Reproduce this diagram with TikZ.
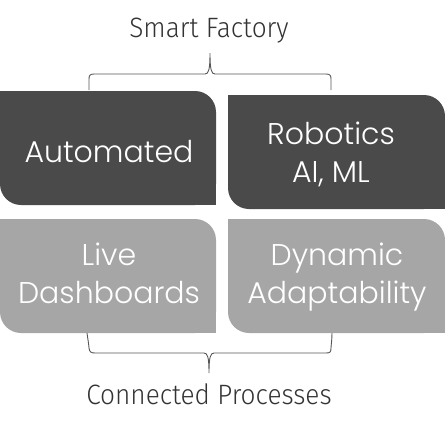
\documentclass[tikz,border=0pt]{standalone}
\usepackage{fontspec}
\IfFontExistsTF{Poppins Light}{\newfontfamily\boxfont{Poppins Light}}{\newfontfamily\boxfont{Poppins}}
\IfFontExistsTF{Fira Sans Light}{\newfontfamily\capfont[FakeStretch=0.935]{Fira Sans Light}}{\newfontfamily\capfont[FakeStretch=0.935]{Fira Sans}}
\definecolor{darkbox}{HTML}{4A4A4A}
\definecolor{lightbox}{HTML}{A6A6A6}
\definecolor{bracecol}{HTML}{555555}
\definecolor{captext}{HTML}{333333}
\begin{document}
\begin{tikzpicture}[x=1pt,y=-1pt,
  leafbox/.style={rectangle, rounded corners=21pt, inner sep=0pt, outer sep=0pt,
    minimum width=216pt, minimum height=114pt},
  boxtext/.style={font=\boxfont\fontsize{30}{38}\selectfont, text=white, align=center, inner sep=0pt, anchor=base},
  captxt/.style={font=\capfont\fontsize{28}{32}\selectfont, text=captext, inner sep=0pt, anchor=base},
  bracestyle/.style={draw=bracecol, line width=0.9pt}]
\useasboundingbox (0,0) rectangle (445,429);
% boxes
\node[leafbox, fill=darkbox, minimum width=216pt] (b1) at (108,148) {};
\fill[darkbox] (b1.north west) rectangle ++(30,30);
\fill[darkbox] (b1.south east) rectangle ++(-30,-30);
\node[leafbox, fill=darkbox, minimum width=217pt] (b2) at (336.5,152) {};
\fill[darkbox] (b2.north west) rectangle ++(30,30);
\fill[darkbox] (b2.south east) rectangle ++(-30,-30);
\node[leafbox, fill=lightbox, minimum width=216pt] (b3) at (108,276) {};
\fill[lightbox] (b3.north west) rectangle ++(30,30);
\fill[lightbox] (b3.south east) rectangle ++(-30,-30);
\node[leafbox, fill=lightbox, minimum width=217pt] (b4) at (336.5,276) {};
\fill[lightbox] (b4.north west) rectangle ++(30,30);
\fill[lightbox] (b4.south east) rectangle ++(-30,-30);
% texts (base = last line baseline)
\node[boxtext] (t1) at (109,162) {Automated};
\node[boxtext] (t2) at (331,182) {Robotics\\AI, ML};
\node[boxtext] (t3) at (109,303) {Live\\Dashboards};
\node[boxtext] (t4) at (337,303) {Dynamic\\Adaptability};
\node[captxt] (title) at (209,37) {Smart Factory};
\node[captxt] (foot) at (209,404) {Connected Processes};
% braces
\coordinate (tbl) at (89,90);
\coordinate (tbr) at (331,90);
\coordinate (tbt) at (210,53);
\draw[bracestyle] (tbl) -- (89,79) .. controls (89,75.5) and (90,74) .. (94,74) -- (205,74)
  .. controls (208.5,74) and (210,70) .. (tbt)
  .. controls (210,70) and (211.5,74) .. (215,74) -- (326,74)
  .. controls (330,74) and (331,75.5) .. (331,79) -- (tbr);
\coordinate (bbl) at (87,333);
\coordinate (bbr) at (332,333);
\coordinate (bbt) at (209,373);
\draw[bracestyle] (bbl) .. controls (88,340) and (89,346) .. (89,348) .. controls (89.5,352) and (91,353) .. (95,353) -- (204,353)
  .. controls (207.5,353) and (209,357) .. (bbt)
  .. controls (209,357) and (210.5,353) .. (214,353) -- (326,353)
  .. controls (330,353) and (331,352) .. (331,348) .. controls (331,346) and (332,340) .. (bbr);
\end{tikzpicture}
\end{document}
